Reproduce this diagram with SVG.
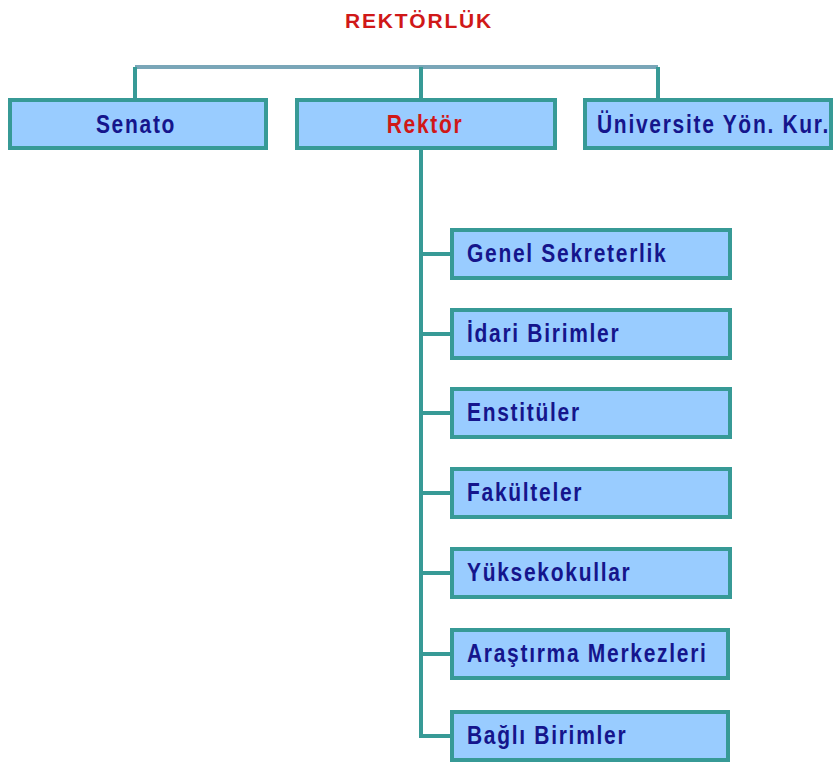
<svg xmlns="http://www.w3.org/2000/svg" width="835" height="764" viewBox="0 0 835 764">
<style>
.box{fill:#99ccff;stroke:#379a96;stroke-width:4}
.t{font-family:"Liberation Sans",Arial,sans-serif;font-weight:bold;font-size:21px;letter-spacing:1.7px;fill:#15158c}
.red{fill:#d01818}
.c{fill:none;stroke:#379a96;stroke-width:4}
</style>
<text x="419" y="28" class="t red" text-anchor="middle" style="font-size:21px;letter-spacing:1.8px">REKTÖRLÜK</text>
<g id="connectors">
<line x1="135" y1="67" x2="658" y2="67" style="stroke:#7aa6b8;stroke-width:4;fill:none"/>
<line x1="135" y1="67" x2="135" y2="99" class="c"/>
<line x1="421" y1="67" x2="421" y2="99" class="c"/>
<line x1="658" y1="67" x2="658" y2="99" class="c"/>
<path d="M421 150 V736 H452" class="c"/>
<line x1="421" y1="254" x2="452" y2="254" class="c"/>
<line x1="421" y1="334" x2="452" y2="334" class="c"/>
<line x1="421" y1="413" x2="452" y2="413" class="c"/>
<line x1="421" y1="493" x2="452" y2="493" class="c"/>
<line x1="421" y1="573" x2="452" y2="573" class="c"/>
<line x1="421" y1="654" x2="452" y2="654" class="c"/>
</g>
<g id="senato"><rect x="10" y="100" width="256" height="48" class="box"/><text transform="translate(136,133) scale(1,1.2)" class="t" text-anchor="middle">Senato</text></g>
<g id="rektor"><rect x="297" y="100" width="258" height="48" class="box"/><text transform="translate(425,133) scale(1,1.2)" class="t red" text-anchor="middle">Rektör</text></g>
<g id="universite"><rect x="585" y="100" width="246" height="48" class="box"/><text transform="translate(597,133) scale(1,1.2)" class="t">Üniversite Yön. Kur.</text></g>
<g id="genel"><rect x="452" y="230" width="278" height="48" class="box"/><text transform="translate(467,262) scale(1,1.2)" class="t">Genel Sekreterlik</text></g>
<g id="idari"><rect x="452" y="310" width="278" height="48" class="box"/><text transform="translate(467,342) scale(1,1.2)" class="t">İdari Birimler</text></g>
<g id="enstituler"><rect x="452" y="389" width="278" height="48" class="box"/><text transform="translate(467,421) scale(1,1.2)" class="t">Enstitüler</text></g>
<g id="fakulteler"><rect x="452" y="469" width="278" height="48" class="box"/><text transform="translate(467,501) scale(1,1.2)" class="t">Fakülteler</text></g>
<g id="yuksekokullar"><rect x="452" y="549" width="278" height="48" class="box"/><text transform="translate(467,581) scale(1,1.2)" class="t">Yüksekokullar</text></g>
<g id="arastirma"><rect x="452" y="630" width="276" height="48" class="box"/><text transform="translate(467,662) scale(1,1.2)" class="t">Araştırma Merkezleri</text></g>
<g id="bagli"><rect x="452" y="712" width="276" height="48" class="box"/><text transform="translate(467,744) scale(1,1.2)" class="t">Bağlı Birimler</text></g>
</svg>
